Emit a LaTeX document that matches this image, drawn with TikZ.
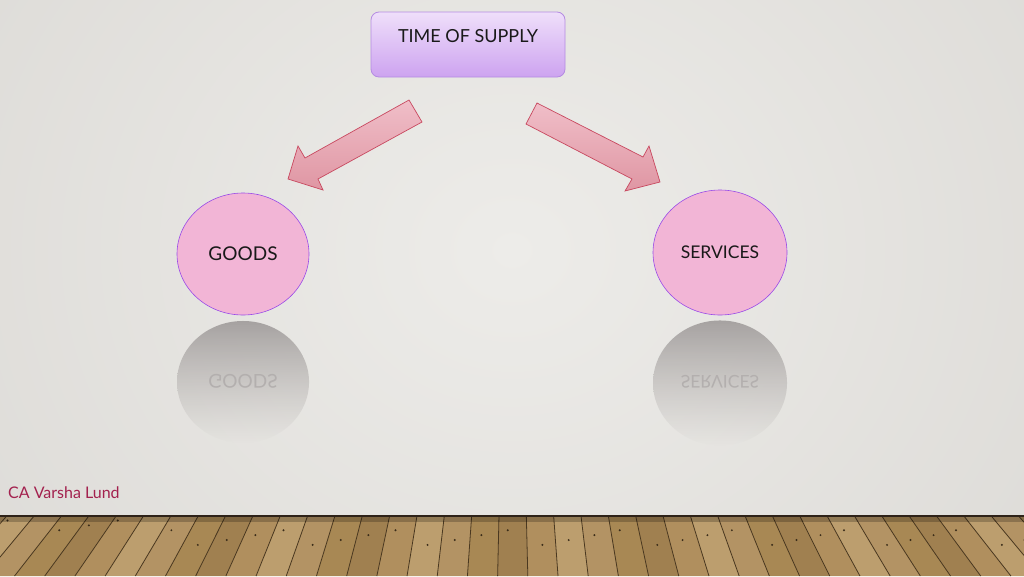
\documentclass[tikz,border=0pt]{standalone}
\usepackage{fontspec}
\setmainfont{Lato}
\usepackage{graphicx}
\usetikzlibrary{shapes.geometric,fadings}
\definecolor{bgin}{HTML}{EDECE9}
\definecolor{bgout}{HTML}{CBC8C3}
\definecolor{boxtop}{HTML}{EFDFFA}
\definecolor{boxbot}{HTML}{CDA3F0}
\definecolor{boxline}{HTML}{B48BE2}
\definecolor{circfill}{HTML}{F2B5D6}
\definecolor{circline}{HTML}{9A4AE8}
\definecolor{arrtop}{HTML}{F0BEC8}
\definecolor{arrbot}{HTML}{DF96A3}
\definecolor{arrline}{HTML}{C8485F}
\definecolor{reftop}{HTML}{A6A2A1}
\definecolor{refbot}{HTML}{B8B4B2}
\definecolor{reftext}{HTML}{B3AFAE}
\definecolor{authorc}{HTML}{A3214E}
\definecolor{plank0}{HTML}{B39364}
\definecolor{plank1}{HTML}{A08050}
\definecolor{plank2}{HTML}{BC9E6E}
\definecolor{plank3}{HTML}{A88854}
\definecolor{plank4}{HTML}{B08F5E}
\definecolor{seamc}{HTML}{4A3820}
\definecolor{floorline}{HTML}{2E2218}
\tikzfading[name=reflfade, top color=transparent!0, middle color=transparent!30, bottom color=transparent!100]
\begin{document}
\begin{tikzpicture}[x=1pt,y=-1pt,
  tbox/.style={draw=boxline, line width=0.8pt, rounded corners=8pt,
    top color=boxtop, bottom color=boxbot, minimum width=194pt, minimum height=65pt,
    text=black!90, font=\fontsize{18}{22}\selectfont, text height=13.5pt, text depth=18.5pt, inner sep=0pt},
  circnode/.style={ellipse, draw=circline, line width=0.6pt, fill=circfill,
    text=black!90, font=\fontsize{19}{22}\selectfont, inner sep=0pt},
  reflnode/.style={text=reftext, font=\fontsize{19}{22}\selectfont, inner sep=0pt},
  blockarrow/.style={draw=arrline, line width=0.7pt, top color=arrtop, bottom color=arrbot},
  reflection/.style={top color=reftop, bottom color=refbot, path fading=reflfade},
  seam/.style={draw=seamc, line width=0.8pt},
  nail/.style={fill=seamc!80!black}
]
\useasboundingbox (0,0) rectangle (1024,576);
% background
\begin{scope}
  \clip (0,0) rectangle (1024,516);
  \shade[inner color=bgin, outer color=bgout] (-900,-1000) rectangle (1924,1500);
\end{scope}
% floor
\begin{scope}
  \clip (0,515) rectangle (1024,576);
  \fill[plank0] (0,515) rectangle (1024,576);
  \foreach \k in {-22,...,21} {
    \pgfmathsetmacro\xa{499+27.3*\k}
    \pgfmathsetmacro\xb{499+27.3*(\k+1)}
    \pgfmathsetmacro\xc{512+(\xa-512)*1.106}
    \pgfmathsetmacro\xd{512+(\xb-512)*1.106}
    \pgfmathtruncatemacro\m{mod(\k*3+66,5)}
    \fill[fill=plank\m] (\xa,515) -- (\xb,515) -- (\xd,576) -- (\xc,576) -- cycle;
    \pgfmathtruncatemacro\n{mod(\k*7+88,4)}
    \pgfmathsetmacro\ta{0.25+0.08*\n}
    \pgfmathsetmacro\xn{(\xa+\xb)/2*(1-\ta)+(\xc+\xd)/2*\ta-5+2*\n}
    \pgfmathsetmacro\yn{515+61*\ta}
    \fill[nail] (\xn,\yn) circle (1.1);
    \draw[seam] (\xa,515) -- (\xc,576);
  }
  \fill[black, opacity=0.22] (0,516) rectangle (1024,522);
  \fill[floorline] (0,514.5) rectangle (1024,517);
\end{scope}
% title box
\node[tbox] (time) at (468,44.5) {TIME OF SUPPLY};
% circles
\node[circnode, minimum width=132pt, minimum height=122pt] (goods) at (243,254) {GOODS};
\node[circnode, minimum width=134pt, minimum height=125pt, font=\fontsize{17.5}{21}\selectfont] (services) at (720,252.5) {SERVICES};
% reflections
\shade[reflection] (243,382) ellipse [x radius=66, y radius=61];
\shade[reflection] (720,383) ellipse [x radius=67, y radius=62.5];
\node[reflnode] (goodsrefl) at (243,381) {\scalebox{1}[-1]{GOODS}};
\node[reflnode, font=\fontsize{17.5}{21}\selectfont] (servicesrefl) at (720,382) {\scalebox{1}[-1]{SERVICES}};
% block arrows
\path[blockarrow] (409,100) -- (305,158) -- (298,146) -- (288,179) -- (323,190) -- (318,179) -- (422,122) -- cycle;
\path[blockarrow] (537,103) -- (643,157) -- (649,146) -- (660,182) -- (625,191) -- (632,179) -- (526,124) -- cycle;
% author
\node[anchor=base west, text=authorc, font=\fontsize{16}{18}\selectfont, inner sep=0pt] (author) at (8,498) {CA Varsha Lund};
\end{tikzpicture}
\end{document}
